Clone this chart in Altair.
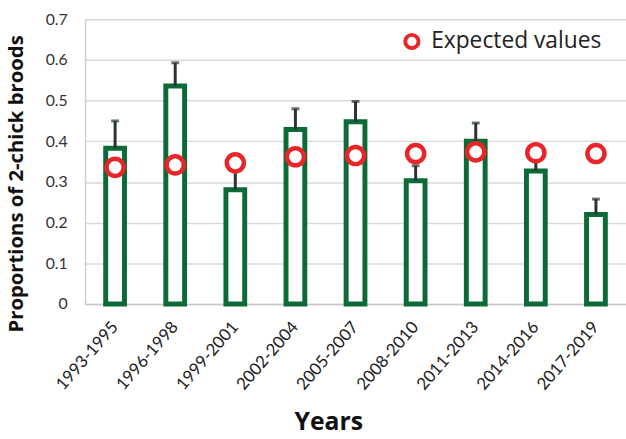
import altair as alt
import pandas as pd

periods = ["1993-1995", "1996-1998", "1999-2001", "2002-2004", "2005-2007",
           "2008-2010", "2011-2013", "2014-2016", "2017-2019"]
observed = [0.383, 0.536, 0.281, 0.429, 0.448, 0.303, 0.400, 0.327, 0.220]
upper = [0.450, 0.593, 0.335, 0.480, 0.498, 0.340, 0.445, 0.350, 0.258]
expected = [0.336, 0.342, 0.347, 0.362, 0.365, 0.370, 0.374, 0.372, 0.370]
y_ticks = [0, 0.1, 0.2, 0.3, 0.4, 0.5, 0.6, 0.7]

df = pd.DataFrame({
    "period": periods,
    "observed": observed,
    "upper": upper,
    "expected": expected,
    "series": ["Expected values"] * len(periods),
})

GREEN = "#0b6a36"
RED = "#e8262a"
DARK = "#2b3434"

x_axis = alt.Axis(
    labelAngle=-49, labelAlign="right", labelBaseline="middle",
    labelFont="Lato", labelFontSize=17, labelColor="#222",
    labelPadding=20, ticks=False, domainColor="#c8c8c8", domainWidth=1.5,
    titleFont="Open Sans", titleFontSize=25, titleFontWeight="bold",
    titleColor="#111", titleX=246, titleY=119, titleBaseline="middle",
    titleAlign="center",
)
x_enc = alt.X("period:N", sort=periods, title="Years",
              scale=alt.Scale(paddingInner=0, paddingOuter=0), axis=x_axis)

y_scale = alt.Scale(domain=[0, 0.7], nice=False)
y_axis = alt.Axis(
    values=y_ticks,
    labelExpr="datum.value == 0 ? '0' : format(datum.value, '.1f')",
    labelFont="Lato", labelFontSize=16, labelColor="#333", labelPadding=18,
    ticks=False, grid=True, gridColor="#d9d9d9", gridWidth=1.5,
    domainColor="#d0d0d0", domainWidth=1.5,
    title="Proportions of 2-chick broods", titleFont="Open Sans",
    titleFontSize=20.5, titleFontWeight="bold", titleColor="#111",
    titleX=-69, titleY=166, titleAngle=-90, titleBaseline="middle",
    titleAlign="center",
)

base = alt.Chart(df).encode(x=x_enc)

bars = base.mark_bar(size=19, fill="white", stroke=GREEN, strokeWidth=5).encode(
    y=alt.Y("observed:Q", scale=y_scale, axis=y_axis),
)

whisker = base.mark_rule(color=DARK, strokeWidth=3).encode(
    y=alt.Y("observed:Q", scale=y_scale, axis=y_axis),
    y2="upper:Q",
)

caps = base.mark_tick(color=DARK, size=8, thickness=3, orient="horizontal").encode(
    y=alt.Y("upper:Q", scale=y_scale, axis=y_axis),
)

points = base.mark_point(filled=False, fill="white", fillOpacity=1, size=300,
                         strokeWidth=4.5, opacity=1).encode(
    y=alt.Y("expected:Q", scale=y_scale, axis=y_axis),
    stroke=alt.Stroke(
        "series:N",
        scale=alt.Scale(domain=["Expected values"], range=[RED]),
        legend=alt.Legend(
            orient="none", legendX=319, legendY=11, title=None,
            labelFont="Open Sans", labelFontSize=23, labelColor="#222",
            labelLimit=400,
            symbolType="circle", symbolSize=180, symbolStrokeWidth=4,
            symbolFillColor="white", symbolStrokeColor=RED, padding=0,
            labelOffset=8,
        ),
    ),
)

chart = alt.layer(bars, whisker, caps, points).properties(
    width=547, height=288,
    autosize=alt.AutoSizeParams(type="none"),
    padding={"left": 86, "top": 17, "right": 0, "bottom": 134},
).configure_view(stroke=None).configure(background="white")

chart.save("out.html", embed_options={"renderer": "svg", "actions": False})
